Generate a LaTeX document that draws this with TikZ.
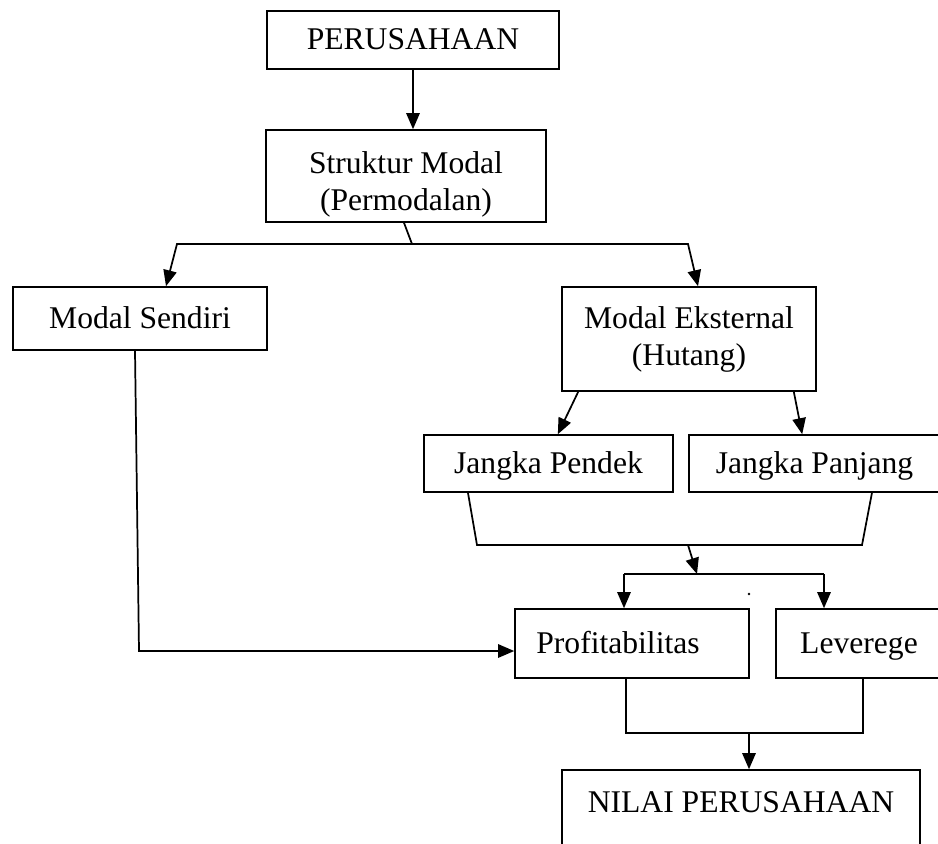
\documentclass[tikz,border=0pt]{standalone}
\usepackage{fontspec}
\setmainfont{Liberation Serif}
\usetikzlibrary{arrows.meta}
\begin{document}
\begin{tikzpicture}[x=0.75pt,y=-0.75pt,
  box/.style={draw,line width=1.2pt,inner sep=0pt,align=center,
    font=\fontsize{23.7pt}{27.75pt}\selectfont},
  onebox/.style={box,text height=19pt,text depth=4.7pt},
  ln/.style={line width=1.3pt},
  arr/.style={ln,-{Triangle[length=12pt,width=10pt]}}]
\useasboundingbox (0,0) rectangle (938,843);
% boxes
\node[onebox,minimum width=219pt,minimum height=43.5pt] (perus) at (413,40) {PERUSAHAAN};
\node[box,minimum width=210pt,minimum height=69pt] (strukt) at (406,176) {\rule{0pt}{29pt}Struktur Modal\\(Permodalan)};
\node[onebox,minimum width=190.5pt,minimum height=47.25pt] (sendiri) at (140,318.5) {Modal Sendiri};
\node[box,minimum width=190.5pt,minimum height=78pt] (ekst) at (689,339) {Modal Eksternal\\(Hutang)};
\node[onebox,minimum width=186.75pt,minimum height=42.75pt] (pendek) at (548.5,463.5) {Jangka Pendek};
\node[onebox,minimum width=188.25pt,minimum height=42.75pt] (panjang) at (814.5,463.5) {Jangka Panjang};
\node[onebox,minimum width=175.5pt,minimum height=51.75pt] (profit) at (632,643.5) {Profitabilitas\hspace*{21pt}};
\node[onebox,minimum width=124.5pt,minimum height=51.75pt] (lev) at (859,643.5) {Leverege};
\node[box,anchor=base,minimum width=268.5pt,text height=31.5pt,text depth=43.5pt] (nilai) at (741,812) {NILAI PERUSAHAAN};
\node[circle,fill,inner sep=0pt,minimum size=2pt] (dot) at (749,594) {};
% coordinates
\coordinate (jc) at (412,244);
\coordinate (jl) at (177,244);
\coordinate (jr) at (688,244);
\coordinate (tl) at (166,0);
\coordinate (tr) at (698,0);
\coordinate (bl) at (477,545);
\coordinate (br) at (862,545);
\coordinate (bm) at (688,545);
\coordinate (pm) at (697,574);
\coordinate (pl) at (624,574);
\coordinate (pr) at (824,574);
\coordinate (ql) at (626,733);
\coordinate (qr) at (863,733);
\coordinate (qm) at (749,733);
\coordinate (sc) at (139,651);
% connectors
\draw[arr] (perus.south) -- (perus.south |- strukt.north);
\draw[ln] ([xshift=-1.5pt]strukt.south) -- (jc);
\draw[arr] (jc) -- (jl) -- (sendiri.north -| tl);
\draw[arr] (jc) -- (jr) -- (ekst.north -| tr);
\draw[arr] ([xshift=12.75pt]ekst.south west) -- ([xshift=7pt]pendek.north);
\draw[arr] ([xshift=-17.25pt]ekst.south east) -- ([xshift=85.5pt]panjang.north west);
\draw[ln] ([xshift=-60.4pt]pendek.south) -- (bl) -- (br) -- ([xshift=43.1pt]panjang.south);
\draw[arr] (bm) -- (pm);
\draw[ln] (pl) -- (pr);
\draw[arr] (pl) -- (profit.north -| pl);
\draw[arr] (pr) -- (lev.north -| pr);
\draw[ln] ([xshift=-4.5pt]profit.south) -- (ql) -- (qr) -- ([xshift=3pt]lev.south);
\draw[arr] (qm) -- (qm |- nilai.north);
\draw[arr] ([xshift=-3.75pt]sendiri.south) -- (sc) -- (sc -| profit.west);
\end{tikzpicture}
\end{document}
